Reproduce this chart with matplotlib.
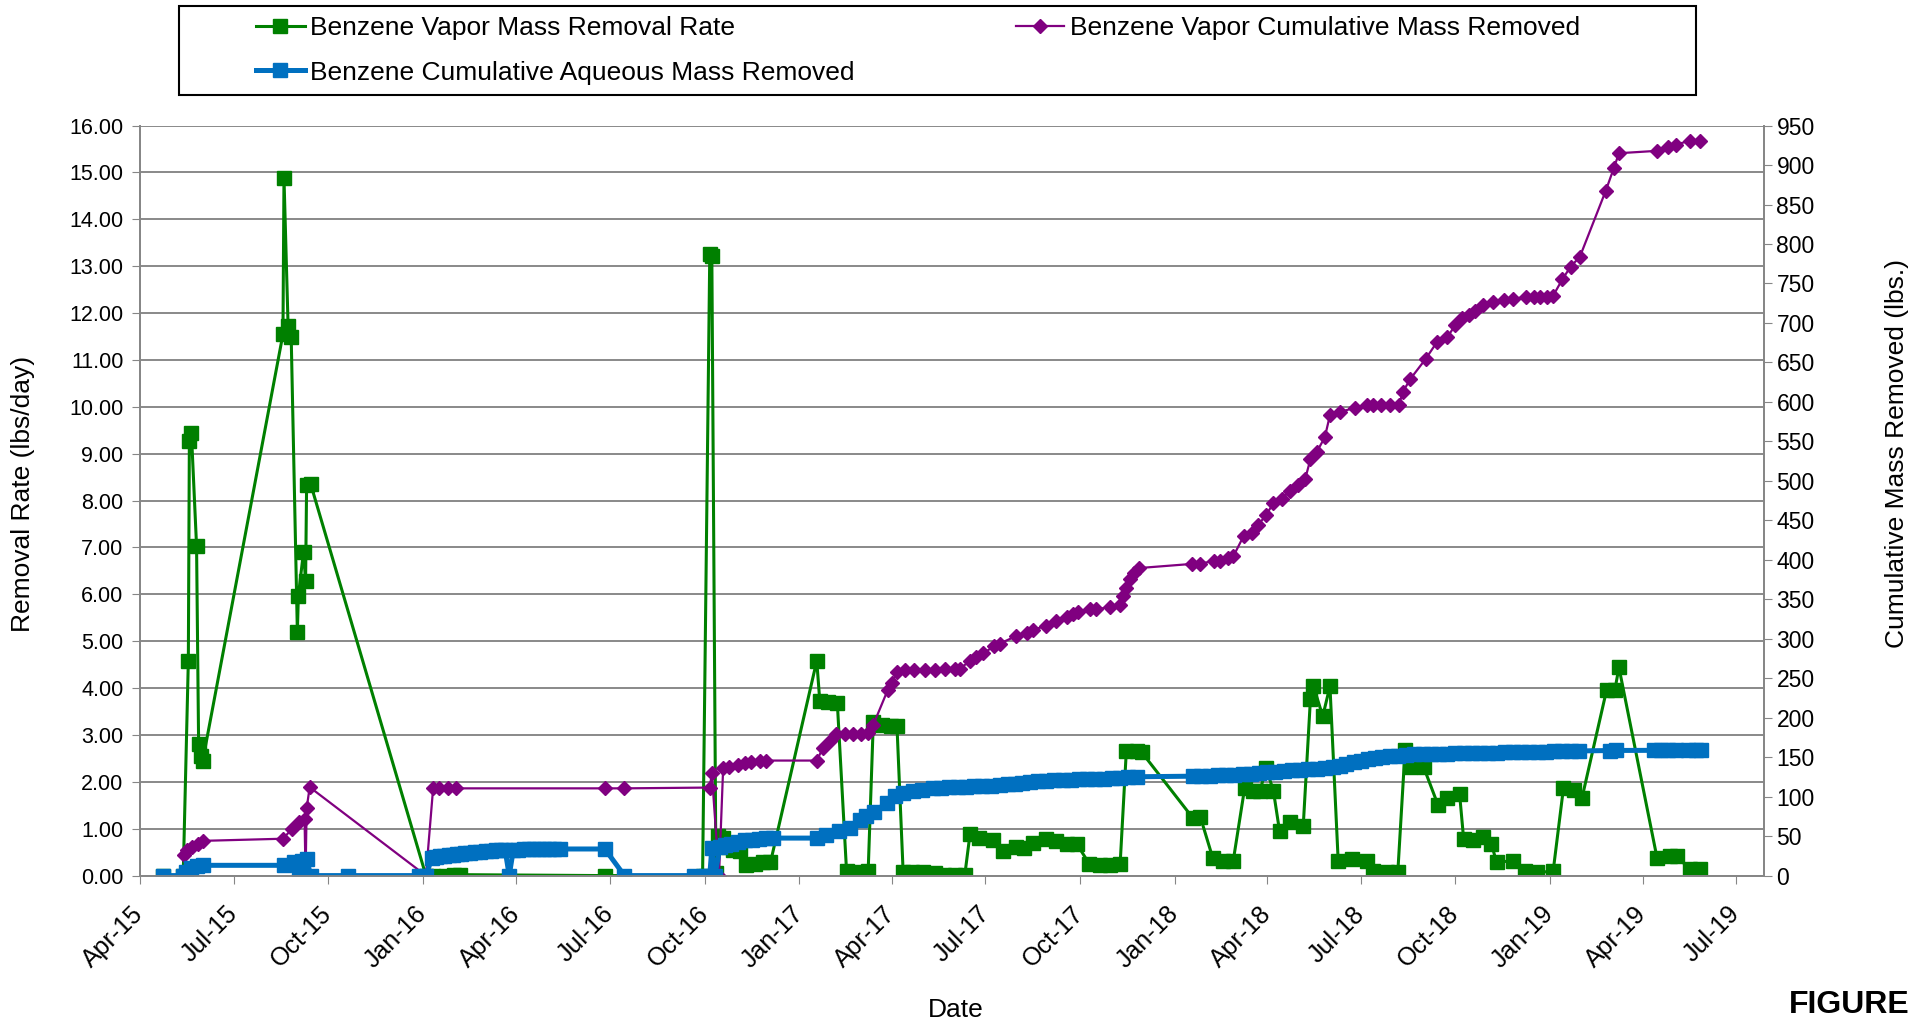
import matplotlib.pyplot as plt
import matplotlib.dates as mdates
import numpy as np
import pandas as pd
from matplotlib.patches import Rectangle

plt.rcParams['font.family'] = ['Liberation Sans', 'DejaVu Sans']

# Excel date serials
rate_day = [42117, 42137, 42142, 42143, 42145, 42150, 42152, 42154, 42156,
            42234, 42235, 42239, 42242, 42248, 42249, 42254, 42256, 42257, 42261,
            42373, 42380, 42393, 42400, 42406, 42547, 42642, 42649, 42651, 42655,
            42657, 42662, 42667, 42672, 42678, 42684, 42693, 42701, 42708,
            42753, 42756, 42764, 42773, 42782, 42789, 42796, 42803,
            42808, 42816, 42825, 42831, 42837, 42846, 42856, 42868, 42877, 42887, 42897,
            42902, 42911, 42924, 42934, 42947, 42955, 42963, 42976, 42986, 42996, 43006,
            43018, 43028, 43038, 43048, 43054, 43064, 43069,
            43119, 43126, 43138, 43148, 43158, 43169, 43177, 43184, 43190, 43197,
            43203, 43213, 43226, 43233, 43236, 43245, 43252, 43260, 43273, 43288,
            43294, 43307, 43318, 43325, 43330, 43343, 43357, 43366, 43378, 43382,
            43391, 43401, 43409, 43414, 43430, 43442, 43453, 43469, 43479, 43489, 43497,
            43521, 43529, 43533, 43570, 43583, 43589, 43602, 43612]
rate_val = [0.00, 0.00, 4.58, 9.28, 9.44, 7.03, 2.80, 2.56, 2.45,
            11.55, 14.88, 11.72, 11.50, 5.20, 5.97, 6.91, 6.28, 8.33, 8.35,
            0.00, 0.00, 0.00, 0.02, 0.02, 0.00, 0.00, 13.27, 13.22, 0.05,
            0.84, 0.80, 0.62, 0.55, 0.52, 0.22, 0.25, 0.28, 0.28,
            4.58, 3.72, 3.70, 3.69, 0.09, 0.07, 0.06, 0.09,
            3.27, 3.22, 3.20, 3.20, 0.08, 0.07, 0.07, 0.05, 0.02, 0.02, 0.02,
            0.88, 0.81, 0.75, 0.52, 0.62, 0.59, 0.70, 0.77, 0.73, 0.68, 0.67,
            0.25, 0.22, 0.22, 0.25, 2.65, 2.65, 2.63,
            1.22, 1.25, 0.38, 0.32, 0.32, 1.86, 1.81, 1.81, 2.29, 1.81,
            0.95, 1.14, 1.05, 3.76, 4.04, 3.40, 4.04, 0.32, 0.35, 0.32,
            0.09, 0.07, 0.08, 2.67, 2.32, 2.32, 1.51, 1.65, 1.75, 0.78,
            0.75, 0.82, 0.68, 0.28, 0.32, 0.09, 0.07, 0.09, 1.86, 1.83, 1.65,
            3.96, 3.96, 4.44, 0.38, 0.41, 0.41, 0.14, 0.14]

vapor_day = [42138, 42141, 42146, 42151, 42156, 42234, 42243, 42250, 42255, 42256,
             42257, 42260, 42373, 42380, 42386, 42394, 42402, 42547, 42566,
             42649, 42651, 42658, 42662, 42668, 42676, 42683, 42689, 42698, 42704,
             42753, 42759, 42766, 42772, 42780, 42788, 42796, 42803, 42808, 42822,
             42826, 42831, 42839, 42848, 42858, 42868, 42878, 42887, 42892, 42902,
             42908, 42915, 42925, 42931, 42947, 42957, 42963, 42976, 42986, 42996,
             43002, 43007, 43019, 43025, 43038, 43048, 43051, 43054, 43058, 43061,
             43066, 43118, 43126, 43139, 43145, 43153, 43158, 43168, 43176, 43182,
             43190, 43197, 43205, 43213, 43221, 43228, 43233, 43239, 43247, 43252,
             43262, 43276, 43288, 43294, 43302, 43310, 43319, 43323, 43330, 43345,
             43356, 43366, 43374, 43380, 43387, 43393, 43401, 43411, 43421, 43430,
             43443, 43450, 43456, 43463, 43469, 43478, 43486, 43495, 43520, 43528,
             43533, 43570, 43581, 43588, 43602, 43612]
vapor_cum = [25.5, 32, 36, 40, 44, 46.7, 59.4, 68, 72, 0,
             85, 112, 0, 110.5, 110.5, 110.5, 110.5, 110.5, 110.5,
             111.5, 129.7, 0, 136, 138, 140, 142.4, 144.4, 145, 145.7,
             145.7, 161.5, 171, 178.8, 178.8, 178.8, 179.5, 181, 191, 235,
             243.6, 258.4, 260.6, 260.6, 260.6, 261, 261.5, 261.8, 261.8, 272,
             276.7, 281.4, 290.3, 293.9, 303.4, 307, 311.7, 315.9, 322.4, 327.8,
             331.9, 333.7, 337.3, 337.3, 340.2, 343.2, 354.5, 364.6, 375.3, 383,
             389.5, 394.8, 394.8, 399, 399, 402.6, 404.3, 429.9, 434, 443.5,
             457.2, 471.4, 477.4, 486.9, 495.2, 502.9, 527.2, 536.2, 555.2, 583.1,
             587.2, 592.6, 596.1, 596.1, 596.1, 596.1, 596.1, 612.8, 628.8, 654.3,
             675.7, 681.6, 697.7, 706, 710.7, 714.9, 723.2, 726.8, 728.5, 730.9,
             732.7, 732.7, 732.7, 732.7, 734.5, 755.3, 771.3, 783.8, 866.9, 896,
             915, 918, 923.3, 925.6, 931, 931]

aq_day = [42117, 42137, 42140, 42145, 42150, 42156, 42235, 42245, 42250, 42253,
          42257, 42261, 42297, 42366, 42373, 42379, 42383, 42387, 42391, 42395,
          42399, 42403, 42407, 42411, 42416, 42421, 42426, 42431, 42436, 42441,
          42446, 42450, 42454, 42458, 42463, 42468, 42473, 42478, 42483, 42488,
          42493, 42498, 42503, 42547, 42566, 42634, 42645, 42649, 42651, 42654,
          42659, 42664, 42670, 42676, 42683, 42690, 42697, 42704, 42710, 42753,
          42762, 42775, 42785, 42795, 42801, 42809, 42821, 42829, 42837, 42847,
          42855, 42866, 42874, 42882, 42890, 42898, 42906, 42914, 42922, 42931,
          42939, 42946, 42953, 42960, 42968, 42976, 42984, 42992, 43000, 43008,
          43016, 43024, 43032, 43040, 43048, 43056, 43064, 43119, 43127, 43135,
          43143, 43151, 43159, 43167, 43175, 43183, 43191, 43199, 43207, 43215,
          43223, 43231, 43239, 43247, 43255, 43262, 43268, 43275, 43282, 43289,
          43296, 43303, 43310, 43318, 43326, 43334, 43342, 43350, 43358, 43366,
          43374, 43382, 43390, 43398, 43406, 43414, 43422, 43430, 43438, 43446,
          43454, 43462, 43470, 43478, 43486, 43494, 43524, 43530, 43567, 43574,
          43581, 43588, 43600, 43608, 43613]
aq_cum = [0, 0, 5, 9, 12.7, 13, 13, 17, 0, 19,
          21, 0, 0, 0, 0, 22.8, 23.5, 24.2, 25, 25.8,
          26.5, 27.2, 27.6, 28, 28.8, 29.6, 30.3, 31, 31.5, 32,
          32.3, 32.5, 0, 32.7, 32.9, 33.1, 33.3, 33.4, 33.5, 33.6,
          33.6, 33.7, 33.7, 33.7, 0, 0, 0, 0, 35, 0,
          36.8, 38.5, 40.5, 42.5, 44.5, 45.5, 46.5, 47.2, 47.5, 47.5,
          51, 56.2, 60.6, 70, 75, 81.1, 91.8, 100.4, 104.6, 106.8,
          108.9, 111, 111.5, 112, 112.4, 112.8, 113.1, 113.5, 113.9, 114.5,
          115.5, 116.5, 117.3, 118.3, 119.2, 119.9, 120.5, 121, 121.5, 121.9,
          122.2, 122.4, 122.6, 123, 124, 124.8, 125.2, 125.9, 126.3, 126.7,
          127, 127.4, 127.8, 128.2, 128.7, 129.5, 130.6, 131.6, 132.6, 133.4,
          134.2, 134.9, 135.4, 136, 137.5, 139, 141.5, 143.7, 145.6, 147.4,
          149, 150.3, 151, 152, 153, 153.4, 153.8, 154.1, 154.4, 154.6,
          154.8, 154.9, 155, 155.3, 155.6, 155.9, 156.1, 156.4, 156.6, 156.8,
          157, 157.1, 157.3, 157.5, 157.7, 157.9, 158.3, 158.5, 158.6, 158.6,
          158.7, 158.8, 159, 159.1, 159.1]


def to_date(serials):
    return pd.to_datetime(np.array(serials), unit='D', origin='1899-12-30')


fig = plt.figure(figsize=(19.31, 10.26), dpi=100)
ax = fig.add_axes([0.0725, 0.1466, 0.841, 0.731])
ax2 = ax.twinx()

l_rate, = ax.plot(to_date(rate_day), rate_val, color='#008000', lw=2.2, marker='s',
                  ms=10.5, mec='#008000', label='Benzene Vapor Mass Removal Rate')
l_vap, = ax2.plot(to_date(vapor_day), vapor_cum, color='#800080', lw=1.6, marker='D',
                  ms=7.5, mec='#800080', label='Benzene Vapor Cumulative Mass Removed')
l_aq, = ax2.plot(to_date(aq_day), aq_cum, color='#0070C0', lw=3.6, marker='s',
                 ms=10, mec='#0070C0', label='Benzene Cumulative Aqueous Mass Removed')

ax.set_xlim(pd.Timestamp('2015-04-01'), pd.Timestamp('2019-07-28'))
ax.set_ylim(0, 16)
ax2.set_ylim(0, 950)
ax.set_yticks(np.arange(0, 17, 1))
ax.yaxis.set_major_formatter(plt.FormatStrFormatter('%.2f'))
ax2.set_yticks(np.arange(0, 951, 50))

ax.xaxis.set_major_locator(mdates.MonthLocator(bymonth=[1, 4, 7, 10]))
ax.xaxis.set_major_formatter(mdates.DateFormatter('%b-%y'))
for lbl in ax.get_xticklabels():
    lbl.set_rotation(45)
    lbl.set_ha('right')
    lbl.set_va('center')
    lbl.set_rotation_mode('anchor')

ax.grid(axis='y', color='#808080', lw=1.3)
ax.set_axisbelow(True)
for a in (ax, ax2):
    a.spines['top'].set_visible(False)
    for s in ('left', 'right', 'bottom'):
        a.spines[s].set_color('#868686')
        a.spines[s].set_linewidth(1.3)
ax.tick_params(axis='x', labelsize=18, length=6, color='#868686', pad=19)
ax.tick_params(axis='y', labelsize=15.5, length=6, color='#868686', pad=6)
ax2.tick_params(axis='y', labelsize=16.5, length=6, color='#868686', pad=3)

fig.text(23.4 / 1931, 1 - 494 / 1026, 'Removal Rate (lbs/day)', rotation=90,
         ha='center', va='center', fontsize=19)
fig.text(1896.6 / 1931, 1 - 454 / 1026, 'Cumulative Mass Removed (lbs.)', rotation=90,
         ha='center', va='center', fontsize=19)
fig.text(955.7 / 1931, 1 - 1010 / 1026, 'Date', ha='center', va='center', fontsize=19)
fig.text(1849 / 1931, 1 - 1005 / 1026, 'FIGURE', ha='center', va='center',
         fontsize=23, fontweight='bold')

fig.legend(handles=[l_rate, l_aq, l_vap], ncol=2, loc='upper left',
           bbox_to_anchor=(256 / 1931, 1 - 16 / 1026), frameon=False, fontsize=19,
           handlelength=1.85, handletextpad=0.2, columnspacing=6.1, borderpad=0,
           borderaxespad=0, labelspacing=0.78, numpoints=1)
fig.patches.append(Rectangle((0.0925, 0.9074), 0.7858, 0.0867, transform=fig.transFigure,
                             fill=False, lw=1.5, ec='black'))

fig.savefig('out.png', dpi=100)
